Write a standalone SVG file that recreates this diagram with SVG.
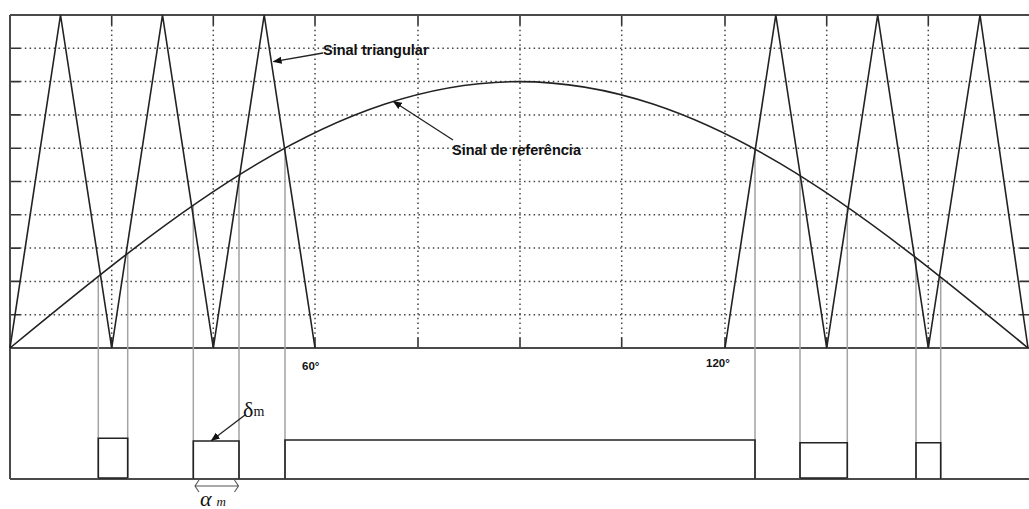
<svg xmlns="http://www.w3.org/2000/svg" width="1029" height="509" viewBox="0 0 1029 509">
<style>
.frame{stroke:#4a4a4a;stroke-width:2;fill:none}
.grid{stroke:#444;stroke-width:1.5;stroke-dasharray:1.5 3.3;fill:none}
.tick{stroke:#333;stroke-width:1.6;fill:none}
.wave{stroke:#222;stroke-width:1.6;fill:none;stroke-linejoin:miter}
.proj{stroke:#a3a3a3;stroke-width:1.5;fill:none}
.pulse{stroke:#222;stroke-width:1.6;fill:none}
.lbl{font-family:"Liberation Sans",Arial,sans-serif;font-weight:bold;fill:#111}
.ser{font-family:"Liberation Serif","Times New Roman",serif;fill:#111}
.arr{stroke:#222;stroke-width:1.3;fill:none}
.dim{stroke:#555;stroke-width:1.1;fill:none}
</style>
<defs>
<marker id="ah" viewBox="0 0 10 10" refX="9" refY="5" markerWidth="9" markerHeight="9" markerUnits="userSpaceOnUse" orient="auto">
<path d="M0,1 L10,5 L0,9 Z" fill="#111"/>
</marker>
</defs>
<rect x="0" y="0" width="1029" height="509" fill="#fff"/>
<g id="grid">
<path class="grid" d="M20,48.3H1020 M20,81.6H1020 M20,114.9H1020 M20,148.2H1020 M20,181.5H1020 M20,214.8H1020 M20,248.1H1020 M20,281.4H1020 M20,314.7H1020"/>
<path class="grid" d="M111.7,25V338 M213.3,25V338 M315,25V338 M418,25V338 M520,25V338 M621.7,25V338 M725,25V338 M826.7,25V338 M928.3,25V338"/>
<path class="tick" d="M10,48.3h10 M10,81.6h10 M10,114.9h10 M10,148.2h10 M10,181.5h10 M10,214.8h10 M10,248.1h10 M10,281.4h10 M10,314.7h10"/>
<path class="tick" d="M1020,48.3h9 M1020,81.6h9 M1020,114.9h9 M1020,148.2h9 M1020,181.5h9 M1020,214.8h9 M1020,248.1h9 M1020,281.4h9 M1020,314.7h9"/>
<path class="tick" d="M111.7,15v10 M213.3,15v10 M315,15v10 M418,15v10 M520,15v10 M621.7,15v10 M725,15v10 M826.7,15v10 M928.3,15v10"/>
<path class="tick" d="M111.7,348v-10 M213.3,348v-10 M315,348v-10 M418,348v-10 M520,348v-10 M621.7,348v-10 M725,348v-10 M826.7,348v-10 M928.3,348v-10"/>
</g>
<g id="frame">
<path class="frame" d="M10,15H1029 M10,15V479 M10,348H1029 M10,479H1029"/>
</g>
<g id="projections">
<path class="proj" d="M98.3,276.3V479 M127.7,253.3V479 M193.3,205.2V479 M239,175V479 M285,148.1V479 M755,149.3V479 M800,175.8V479 M847.3,207V479 M916,257.6V479 M940.7,277V479"/>
</g>
<g id="triangular">
<polyline class="wave" points="10,348 60.5,15 111.7,348 162.5,15 213.3,348 264.2,15 315,348"/>
<polyline class="wave" points="725,348 775.8,15 826.7,348 877.7,15 928.3,348 980,15 1028,348"/>
</g>
<g id="reference">
<path class="wave" d="M10,348 C176,211.5 334.8,81.6 519,81.6 C703.2,81.6 862,211.5 1028,348"/>
</g>
<g id="pulses">
<path class="pulse" d="M98.3,478V438.3H127.7V478Z"/>
<path class="pulse" d="M193.3,479V441H239V479"/>
<path class="pulse" d="M285,479V440H755V479"/>
<path class="pulse" d="M800,478V442.7H847.3V478Z"/>
<path class="pulse" d="M916,479V442.7H940.7V479"/>
</g>
<g id="labels">
<text class="lbl" x="323" y="55" font-size="14.5">Sinal triangular</text>
<text class="lbl" x="452" y="155" font-size="14.5">Sinal de referência</text>
<text class="lbl" x="302" y="369.5" font-size="11.5">60°</text>
<text class="lbl" x="706" y="366.5" font-size="11.5">120°</text>
<text class="ser" x="243" y="417" font-size="22">δ<tspan font-size="14" dy="-1">m</tspan></text>
<text class="ser" x="200" y="506" font-size="22" font-style="italic">α<tspan font-size="13" dx="5">m</tspan></text>
</g>
<g id="connectors">
<line class="arr" x1="323" y1="53" x2="273.5" y2="61.7" marker-end="url(#ah)"/>
<line class="arr" x1="453" y1="140" x2="393.5" y2="101.5" marker-end="url(#ah)"/>
<line class="arr" x1="245" y1="415" x2="211.5" y2="440.5" marker-end="url(#ah)"/>
<path class="dim" d="M195,486H238.5 M199,480L195,486L199,492 M234.5,480L238.5,486L234.5,492"/>
</g>
</svg>
